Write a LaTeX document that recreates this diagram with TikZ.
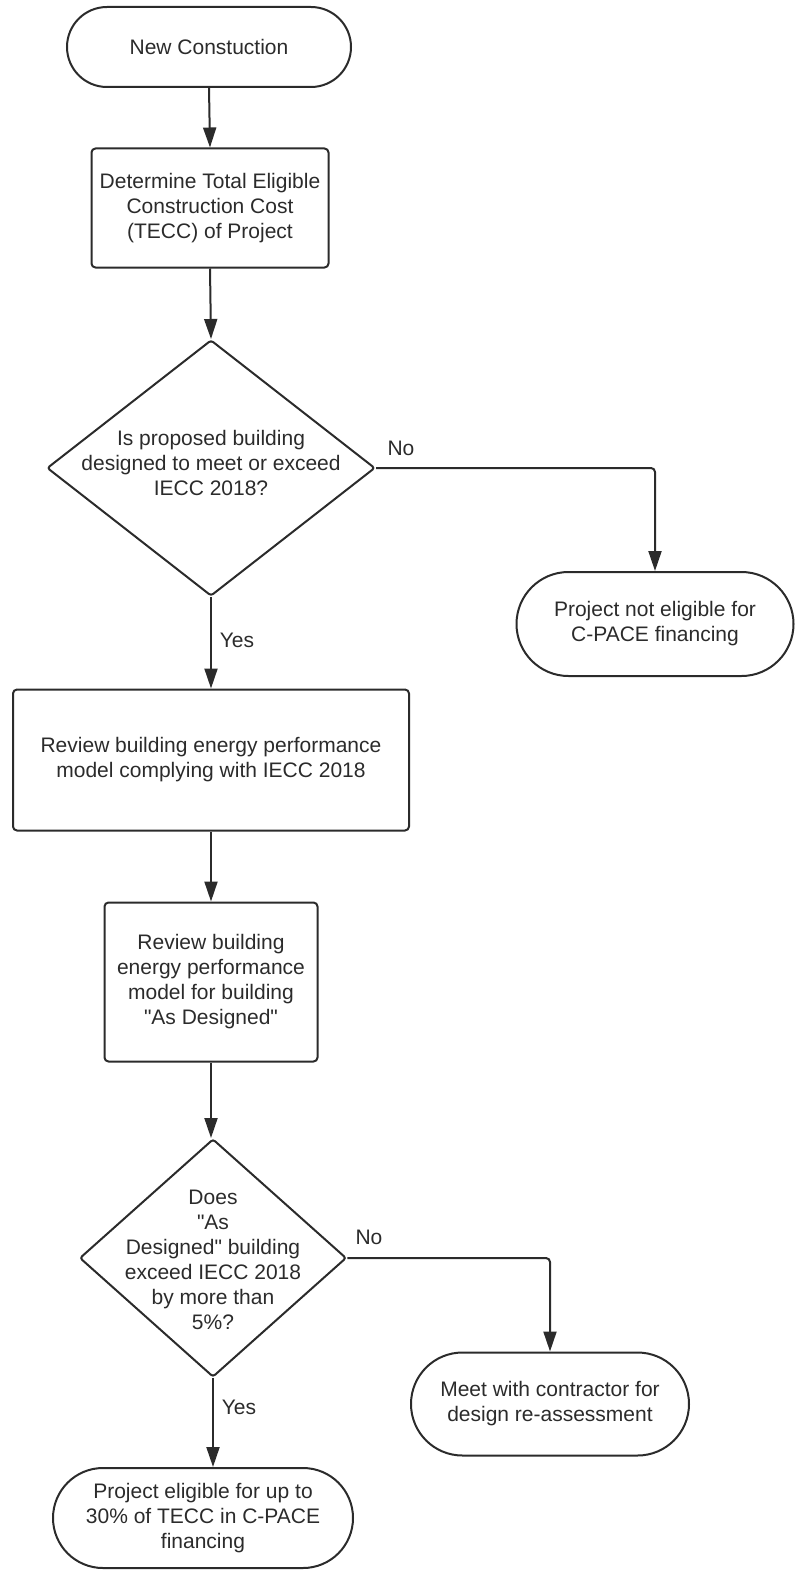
\documentclass[tikz,border=0pt]{standalone}
\usepackage{fontspec}
\setmainfont{Liberation Sans}[Ligatures=TeXOff]
\usetikzlibrary{shapes.geometric,arrows.meta}
\definecolor{ink}{HTML}{2B2B2B}
\begin{document}
\begin{tikzpicture}[x=0.75pt,y=-0.75pt,
  base/.style={draw=ink,line width=1.5pt,text=ink,align=center,inner sep=0pt,
    font=\fontsize{15.75}{18.75}\selectfont},
  term/.style={base,rectangle},
  procbox/.style={base,rectangle,rounded corners=3pt},
  decide/.style={base,diamond,rounded corners=2pt},
  lbl/.style={text=ink,inner sep=0pt,font=\fontsize{15.75}{18.75}\selectfont},
  conn/.style={draw=ink,line width=1.5pt,rounded corners=3pt,-{Triangle[length=15pt,width=9.75pt]}}]
\useasboundingbox (0,0) rectangle (795,1573);
\node[term,minimum width=213pt,minimum height=60pt,rounded corners=30pt] (t1) at (209,47) {New Constuction};
\node[procbox,minimum width=177.75pt,minimum height=89.25pt] (b1) at (210,208) {Determine Total Eligible\\Construction Cost\\(TECC) of Project};
\node[decide,minimum width=246pt,minimum height=192pt,aspect=1.28] (d1) at (211,468) {};
\node[lbl,align=center] (d1t) at (211,463) {Is proposed building\\designed to meet or exceed\\IECC 2018?};
\node[term,minimum width=207.75pt,minimum height=78pt,rounded corners=39pt] (t2) at (655,624) {Project not eligible for\\C-PACE financing};
\node[procbox,minimum width=297pt,minimum height=105.75pt] (b2) at (211,760) {Review building energy performance\\model complying with IECC 2018};
\node[procbox,minimum width=159.75pt,minimum height=119.25pt] (b3) at (211,982) {Review building\\energy performance\\model for building\\"As Designed"};
\node[decide,minimum width=200pt,minimum height=178.5pt,aspect=1.12] (d2) at (213,1258) {};
\node[lbl,align=center] (d2t) at (213,1260) {Does\\"As\\Designed" building\\exceed IECC 2018\\by more than\\5\%?};
\node[term,minimum width=208.5pt,minimum height=77.25pt,rounded corners=38.6pt] (t3) at (550,1404) {Meet with contractor for\\design re-assessment};
\node[term,minimum width=225pt,minimum height=75pt,rounded corners=37.5pt] (t4) at (203,1518) {Project eligible for up to\\30\% of TECC in C-PACE\\financing};
\draw[conn] (t1.south) -- (b1.north);
\draw[conn] (b1.south) -- (d1.north);
\draw[conn] (d1.east) -| (t2.north);
\draw[conn] (d1.south) -- (d1.south |- b2.north);
\draw[conn] (b2.south) -- (b2.south |- b3.north);
\draw[conn] (b3.south) -- (b3.south |- d2.north);
\draw[conn] (d2.east) -| (t3.north);
\draw[conn] (d2.south) -- (d2.south |- t4.north);
\node[lbl] (no1) at (401,448) {No};
\node[lbl] (yes1) at (237,640) {Yes};
\node[lbl] (no2) at (369,1237) {No};
\node[lbl] (yes2) at (239,1407) {Yes};
\end{tikzpicture}
\end{document}
